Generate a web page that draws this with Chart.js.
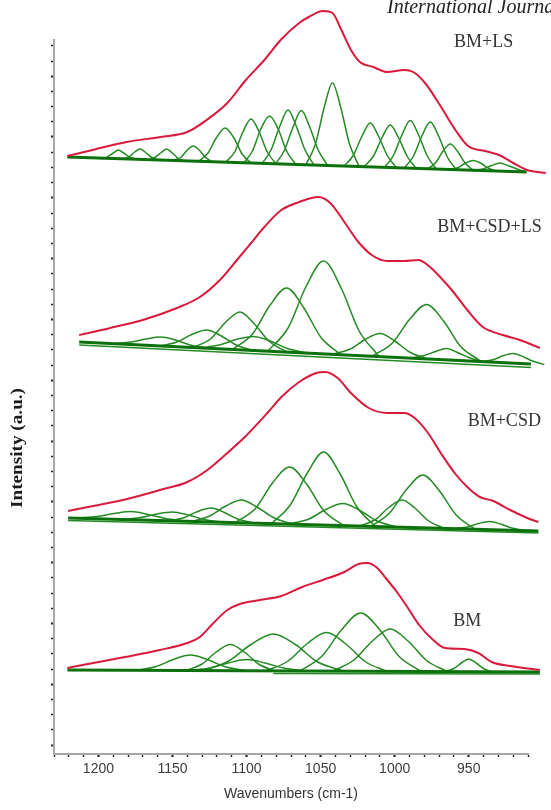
<!DOCTYPE html>
<html><head><meta charset="utf-8">
<script src="https://cdn.jsdelivr.net/npm/chart.js@4.4.1/dist/chart.umd.min.js"></script>
<style>
html,body{margin:0;padding:0;background:#fff;overflow:hidden;width:551px;height:810px;}
#wrap{position:relative;width:551px;height:810px;overflow:hidden;}
canvas{position:absolute;left:0;top:0;}
#journal{position:absolute;left:387px;top:-4px;font:italic 20px "Liberation Serif",serif;color:#222;white-space:nowrap;line-height:20px;}
#ytitle{position:absolute;left:17px;top:448px;transform:translate(-50%,-50%) rotate(-90deg) scaleX(1.2);font:bold 16px "Liberation Serif",serif;color:#1a1a1a;white-space:nowrap;line-height:16px;}
</style></head><body>
<div id="wrap">
<canvas id="c" width="551" height="810"></canvas>
<div id="journal">International Journal</div>
<div id="ytitle">Intensity (a.u.)</div>
</div>
<script>
// ---------- data (x = wavenumber cm-1, y = intensity a.u.) ----------
const xTickLabels = [1200, 1150, 1100, 1050, 1000, 950];
const spectrumNames = ['BM+LS', 'BM+CSD+LS', 'BM+CSD', 'BM'];
const labelWn = [940, 936, 926, 951];
const labelY  = [703, 518, 324, 124];

// envelopes (red)
const envBMLS = [[1221,589],[1204,595],[1181,603],[1158,608],[1140,613],[1127,625],[1113,642],[1100.5,665],[1088,685],[1077,705],[1064.5,722],[1058,728],[1048.5,734],[1042,732],[1036,715],[1029.5,695],[1023.5,683],[1014.5,678],[1005,673],[993.5,675],[987.5,673],[979.5,662],[969.5,640],[959,615],[950.5,599],[939,594],[929.5,590],[920,582],[910.5,575],[898,572]];
const envBMCSDLS = [[1213,410],[1192,417],[1170,425],[1147,437],[1131.5,448],[1118,465],[1106.5,485],[1097.5,501],[1088,518],[1076.5,535],[1064.5,543],[1051.5,548],[1043.5,542],[1033.5,522],[1024.5,503],[1015.5,490],[1005,484],[993.5,484],[984,485],[977,479],[967.5,465],[961.5,455],[951,435],[940.5,418],[927,410],[915.5,405],[902,397]];
const envBMCSD = [[1220.5,234],[1203.5,239],[1180.5,246],[1158.5,255],[1140,263],[1126.5,275],[1113,292],[1100.5,309],[1086,332],[1076.5,348],[1064.5,363],[1053,372],[1047,373],[1038.5,367],[1029.5,352],[1017.5,337],[1005,332],[993.5,332],[986.5,327],[977.5,312],[968.5,291],[959,271],[951,258],[942.5,248],[933.5,244],[922,235],[910.5,227],[903,223]];
const envBM = [[1221,77],[1203.5,82],[1182,88],[1158.5,95],[1140,102],[1131.5,108],[1123,121],[1113,135],[1104.5,141],[1091,145],[1076.5,149],[1062.5,158],[1048.5,165],[1034,173],[1024.5,181],[1018.5,182],[1012.5,178],[1005,165],[998.5,153],[991.5,138],[983.5,120],[974,105],[966,97],[953,96],[943.5,92],[934.5,83],[922,79],[902,75]];

// baselines (green): main line and the lower edge of the tail band
const baseBMLS = [[1221,588],[911,573]];
const baseBMCSDLS = [[1213,403],[908,381]];
const baseBMCSD = [[1220.5,227],[903,214]];
const baseBM = [[1221,75],[902,73]];
const tailBMCSDLS = [[1213,400],[908,377.5]];
const tailBMCSD = [[1220.5,224.5],[903,212]];
const tailBM = [[1082,71.5],[902,71]];

// fitted components (green)
const compBMLS = [
 [[1198,586],[1194,588],[1190,592],[1186.5,595],[1183,592],[1179,588],[1175,586]],
 [[1184,586],[1179.5,588],[1175.5,593],[1172,596],[1168.5,593],[1164.5,588],[1160,585]],
 [[1165.5,585],[1161.5,588],[1157.5,592.5],[1154,596],[1150.5,592.5],[1146.5,587],[1142.5,584]],
 [[1149,585],[1144,588],[1140,595],[1136,599],[1132,595],[1128,588],[1123,583]],
 [[1132,584],[1126,592],[1120.5,607],[1114.5,617],[1108.5,607],[1103,591],[1097,582]],
 [[1114,583],[1108,593],[1102.5,613],[1097,626],[1091.5,613],[1086,593],[1080,581]],
 [[1102,582],[1096,594],[1090.5,615.5],[1084.5,629],[1078.5,615.5],[1073,594],[1067,581]],
 [[1089.5,581.5],[1083.5,595],[1077.5,619],[1072,635],[1066.5,619],[1060.5,595],[1054.5,580]],
 [[1080.5,581],[1074.5,594.5],[1068.5,618.5],[1063,634.5],[1057.5,618.5],[1051.5,594.5],[1045.5,580]],
 [[1060,580],[1053.5,601],[1047.5,638],[1042,662],[1036.5,638],[1030.5,601],[1024,578.5]],
 [[1034,579],[1028,589.5],[1022,609],[1016.5,622],[1011,609],[1005,589.5],[999,577.5]],
 [[1020.5,578.5],[1014.5,588.5],[1008.5,607.5],[1003,620],[997.5,607.5],[991.5,588.5],[985.5,576.5]],
 [[1007,577.5],[1001,589],[995,610.5],[989.5,624.5],[984,610.5],[978,589],[972,576]],
 [[993.5,577],[987.5,588.5],[981.5,609.5],[976,623],[970.5,609.5],[964.5,588],[958.5,575.5]],
 [[978,576],[972.5,582],[967.5,593.5],[962.5,601],[957.5,593.5],[952.5,582],[947,574.5]],
 [[962.5,575.5],[957,577.5],[952,582],[947,584.5],[942,582],[937,577],[931.5,574]],
 [[947,575],[940.5,576],[934.5,579.5],[929,582],[923.5,579.5],[917.5,576],[911,573]]
];
const compBMCSDLS = [
 [[1189,401.5],[1178,403],[1168,406],[1158,408],[1148,405],[1138,400],[1127,397]],
 [[1158,399],[1147,403],[1137,410.5],[1127,415],[1117,409],[1107,400],[1096,394.5]],
 [[1136,397.5],[1124,406.5],[1114,423],[1104.5,433],[1095,421.5],[1085,404],[1073,393]],
 [[1132,397],[1118.5,400],[1107,405.5],[1095.5,408.5],[1084,404],[1072.5,396.5],[1059,392]],
 [[1109.5,395.5],[1096,411],[1084.5,439],[1073,457],[1061.5,437.5],[1050,408],[1036.5,390.5]],
 [[1085.5,394],[1072,417],[1060,458],[1048,484],[1036,456.5],[1024,414],[1010.5,388.5]],
 [[1041,391],[1030,396],[1020,405.5],[1010,411.5],[1000,404],[990,393],[979,386.5]],
 [[1015,389],[1001.5,402],[990,425.5],[978.5,440.5],[967,424],[955.5,398.5],[942,384]],
 [[988.5,387],[980,389.5],[972.5,393.5],[965,396.5],[957.5,392.5],[950,387.5],[941.5,383.5]],
 [[941,383.5],[933,385.5],[926.5,389.5],[920,391.5],[913.5,388.5],[907,384],[899,380.5]]
];
const compBMCSD = [
 [[1214.5,227],[1201,228.5],[1189.5,231.5],[1178,233.5],[1166.5,230.5],[1155,226.5],[1141.5,224]],
 [[1184,225.5],[1171.5,227.5],[1160.5,231],[1150,233],[1139.5,230],[1128.5,225.5],[1116,222.5]],
 [[1152.5,224],[1142,227.5],[1133,233.5],[1124,237],[1115,232.5],[1106,226],[1095.5,222]],
 [[1137.5,223.5],[1125,229],[1114,239],[1103.5,245],[1093,238],[1082,227.5],[1069.5,221]],
 [[1107.5,222.5],[1094,236.5],[1082.5,262],[1071,278],[1059.5,261],[1048,234.5],[1034.5,219.5]],
 [[1083,221.5],[1070.5,240],[1059,272],[1048,293],[1037,271.5],[1025.5,238],[1013,218.5]],
 [[1071.5,221],[1058,226],[1046.5,235.5],[1035,241.5],[1023.5,234.5],[1012,224],[998.5,218]],
 [[1023.5,219],[1013,225.5],[1004,237.5],[995,245],[986,236.5],[977,224],[966.5,216.5]],
 [[1016,218.5],[1003.5,232],[992,255.5],[981,270],[970,254.5],[958.5,230],[946,216]],
 [[959.5,216.5],[951,218],[943.5,221.5],[936,223.5],[928.5,221],[921,217],[912.5,214.5]]
];
const compBM = [
 [[1174.5,74.5],[1161,78.5],[1149.5,85.5],[1138,90],[1126.5,85.5],[1115,78.5],[1101.5,74.5]],
 [[1141,74.5],[1130,81],[1120.5,93],[1111,100.5],[1101.5,93],[1092,81],[1081,74]],
 [[1139,74.5],[1125,77],[1112.5,82],[1100,85.5],[1087.5,82],[1075,77],[1061,74]],
 [[1129,74.5],[1112,84],[1097,100.5],[1082,111],[1067,100.5],[1052.5,83.5],[1035,74]],
 [[1087,74],[1072,84],[1059,101.5],[1046,112.5],[1033,101],[1020,83.5],[1005,73.5]],
 [[1064,74],[1049,89],[1036,115],[1023,132],[1010,115],[997,88.5],[982,73.5]],
 [[1041.5,74],[1027.5,85],[1015,104],[1003,116],[991,104],[978.5,84.5],[964.5,73.5]],
 [[966,73.5],[960,76.5],[955,82],[950,86],[945,82],[940,76.5],[934,73]]
];
const yTickStep = 15.2;   // minor tick spacing on the intensity axis
const yTickCount = 47;

// ---------- build datasets ----------
const RED = 'rgb(218,26,60)';
const GREEN = 'rgb(36,138,36)';
const BASEGREEN = 'rgb(12,112,12)';
const toPts = a => a.map(p => ({x: p[0], y: p[1]}));
const spectra = [
  {env: envBMLS, base: baseBMLS, tail: null, comps: compBMLS},
  {env: envBMCSDLS, base: baseBMCSDLS, tail: tailBMCSDLS, comps: compBMCSDLS},
  {env: envBMCSD, base: baseBMCSD, tail: tailBMCSD, comps: compBMCSD},
  {env: envBM, base: baseBM, tail: tailBM, comps: compBM}
];
const common = {pointRadius: 0, pointHoverRadius: 0, fill: false, clip: false, capBezierPoints: false};
const datasets = [];
spectra.forEach(s => {
  datasets.push(Object.assign({data: toPts(s.env), borderColor: RED, borderWidth: 2, cubicInterpolationMode: 'monotone', order: 0}, common));
  datasets.push(Object.assign({data: toPts(s.base), borderColor: BASEGREEN, borderWidth: 3, tension: 0, order: 1}, common));
  if (s.tail) datasets.push(Object.assign({data: toPts(s.tail), borderColor: GREEN, borderWidth: 1.3, tension: 0, order: 2}, common));
  s.comps.forEach(c => datasets.push(Object.assign({data: toPts(c), borderColor: GREEN, borderWidth: 1.5, cubicInterpolationMode: 'monotone', order: 2}, common)));
});

const labelPlugin = {
  id: 'specLabels',
  afterDatasetsDraw(chart) {
    const {ctx, scales: {x, y}} = chart;
    ctx.save();
    ctx.font = '18px "Liberation Serif", serif';
    ctx.fillStyle = '#333';
    ctx.textAlign = 'center';
    ctx.textBaseline = 'middle';
    spectrumNames.forEach((n, i) => ctx.fillText(n, x.getPixelForValue(labelWn[i]), y.getPixelForValue(labelY[i])));
    ctx.restore();
  }
};

new Chart(document.getElementById('c'), {
  type: 'line',
  data: {datasets},
  plugins: [labelPlugin],
  options: {
    responsive: false,
    animation: false,
    events: [],
    layout: {padding: {left: 0, right: 23, top: 40, bottom: 0}},
    plugins: {legend: {display: false}, tooltip: {enabled: false}},
    scales: {
      x: {
        type: 'linear', reverse: true, min: 910, max: 1230,
        afterFit: s => { s.height = 56; },
        border: {display: true, color: '#a8a8a8', width: 2},
        grid: {drawOnChartArea: false, drawTicks: true, tickLength: 3,
               tickColor: '#222', tickWidth: c => (c.tick && c.tick.value % 50 === 0 ? 2.2 : 1.4)},
        ticks: {stepSize: 10, autoSkip: false, maxRotation: 0, padding: 4, color: '#3c3c3c',
                font: {family: '"Liberation Sans", Arial, sans-serif', size: 14},
                callback: v => (xTickLabels.includes(v) ? String(v) : '')},
        title: {display: true, text: 'Wavenumbers (cm-1)', color: '#333',
                font: {family: '"Liberation Sans", Arial, sans-serif', size: 14}, padding: {top: 0, bottom: 7}}
      },
      y: {
        type: 'linear', min: -9, max: 705,
        afterFit: s => { s.width = 54; },
        afterBuildTicks: s => { s.ticks = Array.from({length: yTickCount}, (_, k) => ({value: k * yTickStep})); },
        border: {display: true, color: '#a8a8a8', width: 2},
        grid: {drawOnChartArea: false, drawTicks: true, tickLength: 3,
               tickColor: '#222', tickWidth: c => (c.index % 4 === 0 ? 2.2 : 1.4)},
        ticks: {display: false}
      }
    }
  }
});
</script>
</body></html>
